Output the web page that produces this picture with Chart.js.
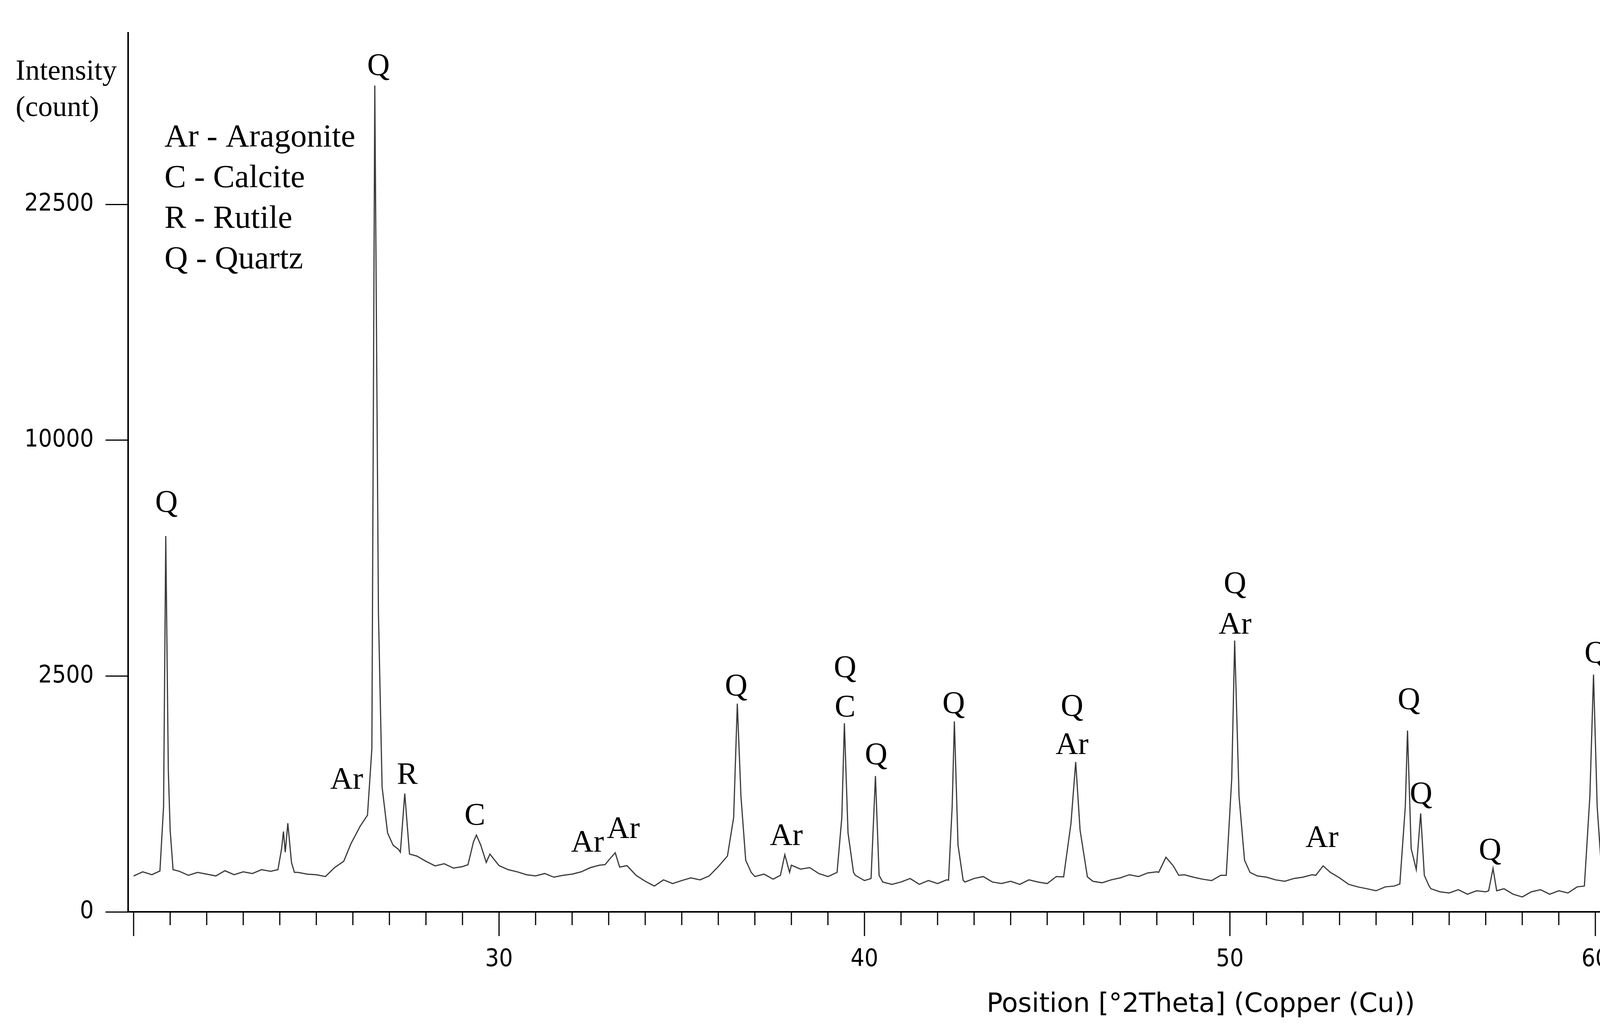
<!DOCTYPE html>
<html>
<head>
<meta charset="utf-8">
<script src="https://cdn.jsdelivr.net/npm/chart.js@4/dist/chart.umd.min.js"></script>
<style>
  html, body { margin: 0; padding: 0; background: #fff; }
  #wrap { width: 5564px; height: 2639px; }
</style>
</head>
<body>
<div id="wrap"><canvas id="xrd" width="5564" height="2639"></canvas></div>
<script>
// background counts, every 0.25 deg from 20 to 75
const baseStart = 20;
const baseStep = 0.25;
const baseCounts = [
  58,72,62,78, 66,74,60,70, 64,58,76,62, 72,66,80,74, 78,96,70,64,
  62,56,88,115, 185,265,330,260, 210,175,150,140, 115,95,104,86, 92,125,180,150,
  96,80,72,62, 58,66,54,60, 64,72,88,98, 112,120,96,60, 42,30,46,36,
  44,52,46,58, 92,135,160,88, 56,64,48,72, 98,82,88,66, 56,72,90,60,
  44,58,40,34, 40,50,34,44, 36,46,50,40, 50,56,40,36, 42,34,46,40,
  36,56,90,62, 56,42,38,46, 52,62,56,68, 72,110,86,62, 54,48,44,60,
  66,120,82,58, 54,46,42,50, 54,62,80,76, 52,34,28,24, 20,28,30,36,
  60,40,24,18, 16,22,14,20, 18,40,24,14, 10,18,22,14, 20,16,28,60,
  80,40,22,18, 20,14,24,18, 16,22,18,12, 18,14,20,26, 30,24,16,10,
  18,8,30,28, 20,16,24,40, 80,150,300,120, 200,600,200,60, 30,22,18,24,
  16,22,18,14, 28,16,12,20, 6,18,14,20, 16,30,120,40, 22,18,24,16,
  20
];

// peaks: [2theta, counts] points
const peaks = [
  [[20.72,75],[20.82,500],[20.88,6350],[20.95,900],[21.0,300],[21.08,80]],
  [[23.95,80],[24.05,180],[24.1,290],[24.15,160],[24.22,353],[24.32,110],[24.4,70]],
  [[25.95,210],[26.2,330],[26.4,420],[26.52,1200],[26.6,30700],[26.7,4000],[26.8,700],[26.95,280],[27.1,200]],
  [[27.3,160],[27.42,630],[27.55,150]],
  [[29.15,100],[29.3,220],[29.38,265],[29.5,200],[29.65,110]],
  [[32.9,100],[33.05,130],[33.18,157],[33.3,90]],
  [[36.25,140],[36.42,400],[36.52,1950],[36.62,600],[36.75,120],[36.9,70]],
  [[37.7,60],[37.82,147],[37.95,70]],
  [[39.25,70],[39.38,400],[39.45,1600],[39.55,280],[39.7,70]],
  [[40.18,50],[40.3,830],[40.4,60]],
  [[42.3,45],[42.4,500],[42.46,1630],[42.56,200],[42.7,45]],
  [[45.45,55],[45.65,350],[45.78,1010],[45.9,300],[46.1,55]],
  [[48.05,70],[48.25,134],[48.45,95],[48.6,60]],
  [[49.9,60],[50.05,800],[50.13,3310],[50.25,600],[50.4,120],[50.55,70]],
  [[52.35,60],[52.55,95],[52.75,70]],
  [[54.65,35],[54.8,500],[54.86,1477],[54.96,180],[55.1,80],[55.22,436],[55.32,60],[55.45,30]],
  [[57.08,20],[57.2,85],[57.3,20]],
  [[59.7,30],[59.85,600],[59.95,2530],[60.05,500],[60.15,120],[60.3,40]],
  [[63.9,18],[64.02,408],[64.14,30]],
  [[65.6,15],[65.75,90],[65.9,25]],
  [[67.35,60],[67.55,300],[67.72,2025],[67.85,300],[67.95,118],[68.05,600],[68.12,2285],[68.2,900],[68.28,880],[68.4,250],[68.6,50]],
  [[73.3,30],[73.42,408],[73.55,35]]
];

// phase labels
const labelText = ['Q','Q','Ar','R','C','Ar','Ar','Q','Ar','Q','C','Q','Q',
  'Q','Ar','Q','Ar','Ar','Q','Q','Q','Q','Q','R','Q','Ar','Q','Ar','Q','Q'];
const labelX = [20.9,26.7,25.83,27.49,29.34,32.42,33.4,36.49,37.86,39.47,39.47,40.32,42.44,
  45.68,45.68,50.14,50.14,52.52,54.9,55.23,57.12,60.01,64.01,64.01,65.7,65.7,67.54,67.68,68.47,73.37];
const labelCounts = [7500,32100,775,830,408,210,303,2270,252,2655,1865,1090,1925,
  1875,1240,4810,3690,239,2000,615,164,2980,990,535,473,180,3150,2275,1145,575];

const legendLines = ['Ar - Aragonite','C - Calcite','R - Rutile','Q - Quartz'];
const yTickCounts = [0, 2500, 10000, 22500];

// build trace
const ranges = peaks.map(p => [p[0][0], p[p.length - 1][0]]);
let pts = [];
baseCounts.forEach((c, i) => {
  const x = baseStart + i * baseStep;
  if (!ranges.some(r => x >= r[0] && x <= r[1])) pts.push({x: x, y: Math.sqrt(c)});
});
peaks.forEach(p => p.forEach(q => pts.push({x: q[0], y: Math.sqrt(q[1])})));
pts.sort((a, b) => a.x - b.x);

const decor = {
  id: 'decor',
  afterDraw(chart) {
    const ctx = chart.ctx;
    const xs = chart.scales.x, ys = chart.scales.y;
    const a = chart.chartArea;
    ctx.save();
    ctx.strokeStyle = '#000';
    ctx.lineWidth = 4;
    ctx.beginPath();
    ctx.moveTo(a.right, a.top);
    ctx.lineTo(a.right, a.bottom);
    ctx.stroke();
    ctx.lineWidth = 3;
    for (let v = 20; v <= 74; v++) {
      const px = xs.getPixelForValue(v);
      ctx.beginPath();
      ctx.moveTo(px, a.bottom);
      ctx.lineTo(px, a.bottom + (v % 10 === 0 ? 62 : 34));
      ctx.stroke();
    }
    ctx.fillStyle = '#000';
    ctx.textAlign = 'center';
    ctx.textBaseline = 'middle';
    ctx.font = '80px "Liberation Serif", "Times New Roman", serif';
    labelText.forEach((t, i) => {
      ctx.fillText(t, xs.getPixelForValue(labelX[i]), ys.getPixelForValue(Math.sqrt(labelCounts[i])));
    });
    ctx.font = '68px "DejaVu Sans", sans-serif';
    ctx.fillText('Position [°2Theta] (Copper (Cu))', 3074, 2572);
    ctx.textAlign = 'left';
    ctx.font = '83px "Liberation Serif", serif';
    legendLines.forEach((t, i) => ctx.fillText(t, 421, 353 + i * 104));
    ctx.font = '74px "Liberation Serif", serif';
    ctx.fillText('Intensity', 40, 185);
    ctx.fillText('(count)', 40, 278);
    ctx.restore();
  }
};

const tickFont = { family: '"DejaVu Sans Condensed", "DejaVu Sans", sans-serif', size: 62 };

new Chart(document.getElementById('xrd'), {
  type: 'line',
  data: {
    datasets: [{
      data: pts,
      borderColor: '#3a3a3a',
      borderWidth: 3,
      pointRadius: 0,
      tension: 0,
      fill: false
    }]
  },
  options: {
    responsive: false,
    animation: false,
    devicePixelRatio: 1,
    layout: { padding: { top: 84, right: 24, left: 0, bottom: 0 } },
    plugins: { legend: { display: false }, tooltip: { enabled: false } },
    scales: {
      x: {
        type: 'linear',
        min: 19.85,
        max: 74.9,
        afterFit(s) { s.height = 305; },
        grid: { display: false, drawTicks: false },
        border: { color: '#000', width: 4 },
        ticks: {
          stepSize: 1,
          autoSkip: false,
          maxRotation: 0,
          padding: 86,
          color: '#000',
          font: tickFont,
          callback: v => (Math.abs(v % 10) < 1e-6 ? String(v) : '')
        }
      },
      y: {
        type: 'linear',
        min: 0,
        max: 186.4,
        afterFit(s) { s.width = 328; },
        afterBuildTicks(s) { s.ticks = yTickCounts.map(c => ({ value: Math.sqrt(c) })); },
        grid: { drawOnChartArea: false, drawTicks: true, tickLength: 58, color: '#000', lineWidth: 3 },
        border: { color: '#000', width: 4 },
        ticks: {
          padding: 30,
          color: '#000',
          font: tickFont,
          callback: v => String(Math.round(v * v))
        }
      }
    }
  },
  plugins: [decor]
});
</script>
</body>
</html>
